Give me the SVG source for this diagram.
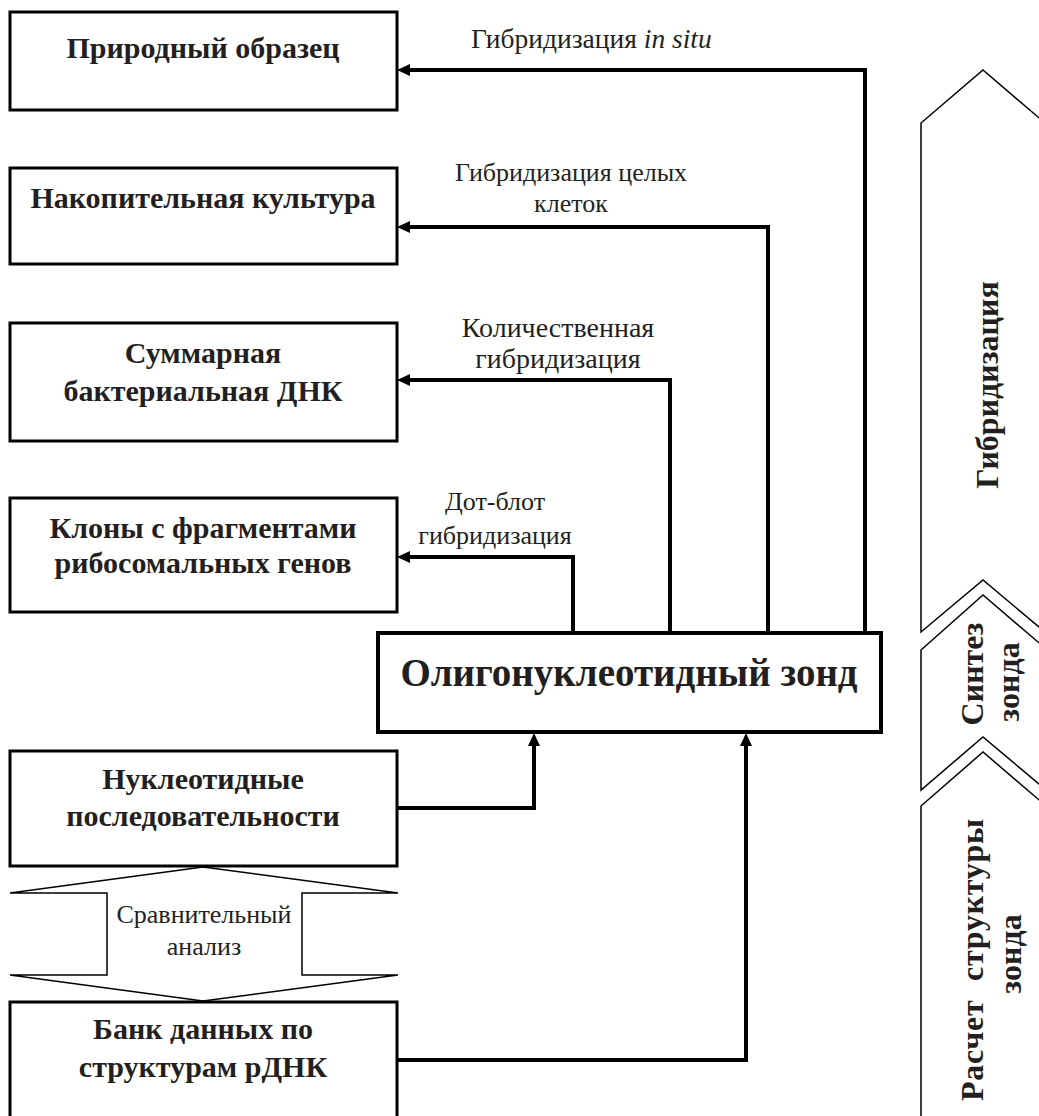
<svg xmlns="http://www.w3.org/2000/svg" width="1039" height="1116" viewBox="0 0 1039 1116">
<style>
.box{fill:#fff;stroke:#000;stroke-width:3}
.zond{fill:#fff;stroke:#000;stroke-width:4}
.conn{fill:none;stroke:#000;stroke-width:4;marker-end:url(#ah)}
.thin{fill:#fff;stroke:#000;stroke-width:1.5;stroke-linejoin:miter}
.t{font-family:"Liberation Serif","Times New Roman",serif;font-weight:bold;font-size:30px;fill:#231f20;text-anchor:middle}
.r{font-family:"Liberation Serif","Times New Roman",serif;font-weight:bold;font-size:32px;fill:#231f20;text-anchor:middle}
.tz{font-family:"Liberation Serif","Times New Roman",serif;font-weight:bold;font-size:39px;fill:#231f20;text-anchor:middle}
.l{font-family:"Liberation Serif","Times New Roman",serif;font-size:26px;fill:#231f20;text-anchor:middle}
</style>
<defs>
<marker id="ah" markerUnits="userSpaceOnUse" markerWidth="14" markerHeight="12" refX="0" refY="6" orient="auto">
<path d="M0,0 L13,6 L0,12 z" fill="#000"/>
</marker>
</defs>
<g id="stages">
<path class="thin" d="M1045,123 L983,70 L921,123 L921,632 L983,580 L1045,632"/>
<path class="thin" d="M1045,648 L983,595 L921,650 L921,790 L983,737 L1045,789"/>
<path class="thin" d="M1045,805 L983,752 L921,806 L921,1120"/>
<text class="r" transform="translate(998,385) rotate(-90)">Гибридизация</text>
<text class="r" transform="translate(983,674) rotate(-90)">Синтез</text>
<text class="r" transform="translate(1019,682) rotate(-90)">зонда</text>
<text class="r" transform="translate(983,960) rotate(-90)" textLength="282" lengthAdjust="spacing">Расчет<tspan dx="10"> структуры</tspan></text>
<text class="r" transform="translate(1021,954) rotate(-90)">зонда</text>
</g>
<g id="compare">
<path class="thin" d="M203,867 L398,893 L302,893 L302,975 L398,975 L203,1001 L10,975 L107,975 L107,893 L10,893 Z"/>
<text class="l" x="204" y="923">Сравнительный</text>
<text class="l" x="204" y="955">анализ</text>
</g>
<g id="connectors">
<path class="conn" d="M865,632 V70 H410"/>
<path class="conn" d="M768,632 V227 H410"/>
<path class="conn" d="M670,632 V380 H410"/>
<path class="conn" d="M573,632 V557 H410"/>
<path class="conn" d="M397,808 H534 V746"/>
<path class="conn" d="M397,1060 H746 V746"/>
</g>
<g id="n1"><rect class="box" x="10" y="12" width="387" height="98"/><text class="t" x="203" y="58">Природный образец</text></g>
<g id="n2"><rect class="box" x="10" y="168" width="387" height="96"/><text class="t" x="203" y="208">Накопительная культура</text></g>
<g id="n3"><rect class="box" x="10" y="323" width="387" height="118"/><text class="t" x="203" y="363">Суммарная</text><text class="t" x="203" y="401">бактериальная ДНК</text></g>
<g id="n4"><rect class="box" x="10" y="498" width="387" height="114"/><text class="t" x="203" y="538">Клоны с фрагментами</text><text class="t" x="203" y="573">рибосомальных генов</text></g>
<g id="zond"><rect class="zond" x="378" y="633" width="503" height="99"/><text class="tz" x="629" y="686">Олигонуклеотидный зонд</text></g>
<g id="n5"><rect class="box" x="10" y="751" width="387" height="115"/><text class="t" x="203" y="789">Нуклеотидные</text><text class="t" x="203" y="826">последовательности</text></g>
<g id="n6"><rect class="box" x="10" y="1002" width="387" height="120"/><text class="t" x="203" y="1039">Банк данных по</text><text class="t" x="203" y="1077">структурам рДНК</text></g>
<g id="labels">
<text class="l" x="471" y="48" style="text-anchor:start;font-size:27.5px">Гибридизация <tspan font-style="italic">in situ</tspan></text>
<text class="l" x="571" y="181">Гибридизация целых</text>
<text class="l" x="571" y="212">клеток</text>
<text class="l" x="558" y="337" style="font-size:28px">Количественная</text>
<text class="l" x="558" y="368" style="font-size:28px">гибридизация</text>
<text class="l" x="495" y="510">Дот-блот</text>
<text class="l" x="495" y="544">гибридизация</text>
</g>
</svg>
